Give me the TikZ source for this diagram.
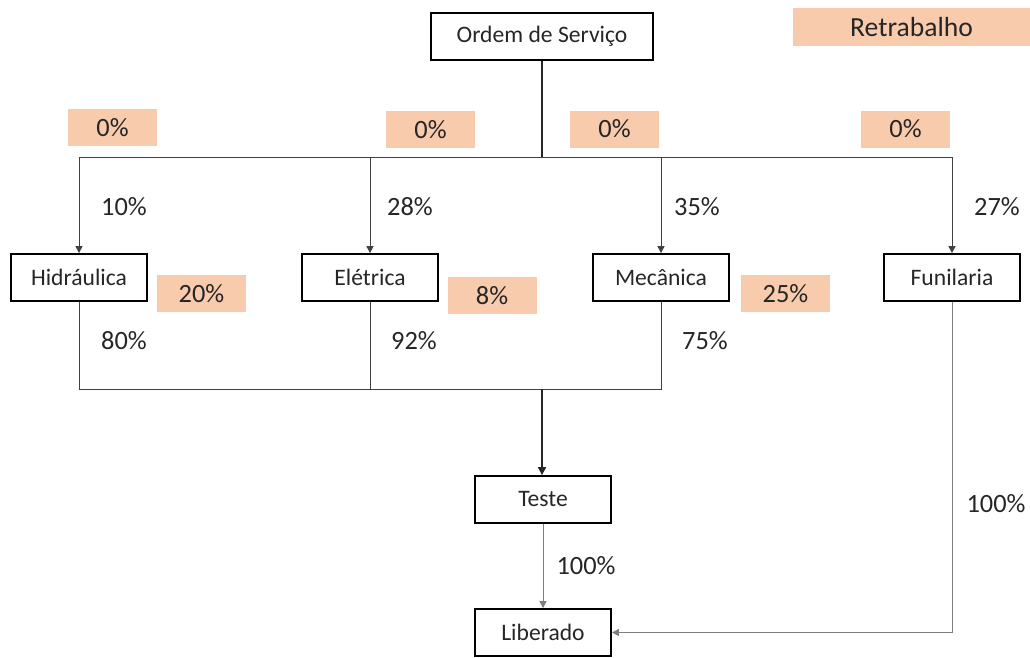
\documentclass[tikz,border=0pt]{standalone}
\usepackage{fontspec}
\setmainfont{Carlito}
\usetikzlibrary{arrows.meta}
\definecolor{peach}{HTML}{F8CBAD}
\definecolor{lineg}{HTML}{404040}
\definecolor{lightg}{HTML}{7F7F7F}
\begin{document}
\begin{tikzpicture}[x=1pt,y=-1pt,
  font=\fontsize{26.4}{30}\selectfont,
  box/.style={draw=black,line width=1.8pt,minimum width=136pt,minimum height=47pt,inner sep=0pt,text=black!85,font=\fontsize{23.6}{28}\selectfont},
  tag/.style={fill=peach,minimum width=89pt,minimum height=37pt,inner sep=0pt,text=black!85},
  lbl/.style={inner sep=0pt,text=black!85},
  conn/.style={draw=lineg,line width=1pt},
  arr/.style={conn,-{Triangle[length=7pt,width=7pt]}}]
\useasboundingbox (0,0) rectangle (1030,657);
% boxes
\node[box,minimum width=222pt] (os) at (542,36.5) {Ordem de Serviço};
\node[box] (hid) at (79,277.5) {Hidráulica};
\node[box] (ele) at (370,277.5) {Elétrica};
\node[box] (mec) at (661,277.5) {Mecânica};
\node[box] (fun) at (952,277.5) {Funilaria};
\node[box] (tst) at (543,499.5) {Teste};
\node[box] (lib) at (543,632.5) {Liberado};
% rework tags
\node[tag,minimum width=237pt,minimum height=38pt,font=\fontsize{27.6}{32}\selectfont] (ret) at (911.5,27) {Retrabalho};
\node[tag] (r1) at (112.5,127.5) {0\%};
\node[tag] (r2) at (430.5,129.5) {0\%};
\node[tag] (r3) at (614.5,129) {0\%};
\node[tag] (r4) at (905.5,129) {0\%};
\node[tag] (r5) at (201.5,293.5) {20\%};
\node[tag] (r6) at (492,295.5) {8\%};
\node[tag] (r7) at (785.5,293.5) {25\%};
% labels
\node[lbl] (l1) at (124,207) {10\%};
\node[lbl] (l2) at (410,207) {28\%};
\node[lbl] (l3) at (697,207) {35\%};
\node[lbl] (l4) at (997,207) {27\%};
\node[lbl] (l5) at (124,341) {80\%};
\node[lbl] (l6) at (414,341) {92\%};
\node[lbl] (l7) at (705,341) {75\%};
\node[lbl] (l8) at (586,566) {100\%};
\node[lbl] (l9) at (996,504) {100\%};
% connectors
\coordinate (top) at (542,157);
\coordinate (bot) at (542,389);
\draw[conn,line width=1.8pt,draw=black!85] (os.south) -- (top);
\draw[conn] (hid.north |- top) -- (fun.north |- top);
\draw[arr] (hid.north |- top) -- (hid.north);
\draw[arr] (ele.north |- top) -- (ele.north);
\draw[arr] (mec.north |- top) -- (mec.north);
\draw[arr] (fun.north |- top) -- (fun.north);
\draw[conn] (hid.south) -- (hid.south |- bot) -- (mec.south |- bot) -- (mec.south);
\draw[conn] (ele.south) -- (ele.south |- bot);
\draw[conn,line width=1.8pt,draw=black!85,-{Triangle[length=8pt,width=8pt]}] (bot) -- (bot |- tst.north);
\draw[conn,draw=lightg,-{Triangle[length=7pt,width=7pt]}] (tst.south) -- (lib.north);
\draw[conn,draw=lightg,-{Triangle[length=7pt,width=7pt]}] (fun.south) |- (lib.east);
\end{tikzpicture}
\end{document}
